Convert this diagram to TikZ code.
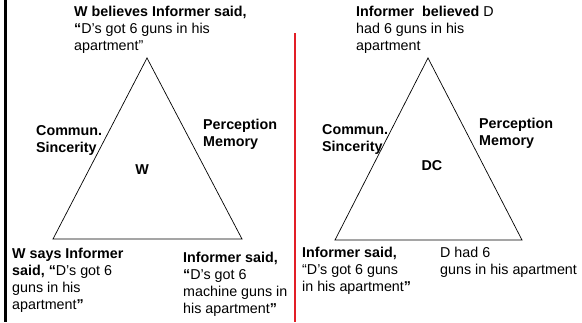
\documentclass[tikz,border=0pt]{standalone}
\usepackage{fontspec}
\setmainfont{Liberation Sans}
\usetikzlibrary{positioning}
\definecolor{ruleRed}{RGB}{226,30,38}

\begin{document}
\begin{tikzpicture}[
    x=1pt, y=-1pt,
    boxText/.style={
        anchor=base west,
        align=left,
        inner sep=0pt,
        font=\fontsize{14.3}{17}\selectfont
    },
    sideText/.style={boxText, font=\fontsize{14.3}{17}\selectfont\bfseries},
    vertexName/.style={inner sep=0pt, font=\fontsize{14.3}{17}\selectfont\bfseries},
    triangle/.style={draw=black, line width=0.7pt}
]

\useasboundingbox (0,0) rectangle (582,322);

% Rules
\coordinate (barTop) at (5.5,0);
\coordinate (barBottom) at (5.5,322);
\coordinate (splitTop) at (295,33);
\coordinate (splitBottom) at (295,322);
\draw[line width=3pt] (barTop) -- (barBottom);
\draw[ruleRed, line width=1.3pt] (splitTop) -- (splitBottom);

% Triangle corners
\coordinate (wTop)    at (147,58);
\coordinate (wLeft)   at (53,239);
\coordinate (wRight)  at (242,239);
\coordinate (dcTop)   at (428,58);
\coordinate (dcLeft)  at (335,240);
\coordinate (dcRight) at (522,240);

\draw[triangle] (wTop) -- (wLeft) -- (wRight) -- cycle;
\draw[triangle] (dcTop) -- (dcLeft) -- (dcRight) -- cycle;

% Witness triangle (anchors sit on the last line)
\node[boxText] (wBelief) at (74,50) {\textbf{W believes Informer said,}\\\textbf{“}D’s got 6 guns in his\\apartment”};
\node[sideText] (wComm) at (36,152) {Commun.\\Sincerity};
\node[sideText] (wPerc) at (203,146) {Perception\\Memory};
\node[vertexName] (wName) at (142,170) {W};
\node[boxText] (wSays) at (12,309) {\textbf{W says Informer}\\\textbf{said, “}D’s got 6\\guns in his\\apartment\textbf{”}};
\node[boxText] (wHeard) at (183,313) {\textbf{Informer said,}\\\textbf{“}D’s got 6\\machine guns in\\his apartment\textbf{”}};

% Declarant triangle
\node[boxText] (iBelief) at (356,50) {\textbf{Informer\ \ believed} D\\had 6 guns in his\\apartment};
\node[sideText] (dcComm) at (322,151) {Commun.\\Sincerity};
\node[sideText] (dcPerc) at (479,145) {Perception\\Memory};
\node[vertexName] (dcName) at (432,166) {DC};
\node[boxText] (iSaid) at (302,291) {\textbf{Informer said,}\\“D’s got 6 guns\\in his apartment\textbf{”}};
\node[boxText] (dFact) at (440,274) {D had 6\\guns in his apartment};

\end{tikzpicture}
\end{document}
